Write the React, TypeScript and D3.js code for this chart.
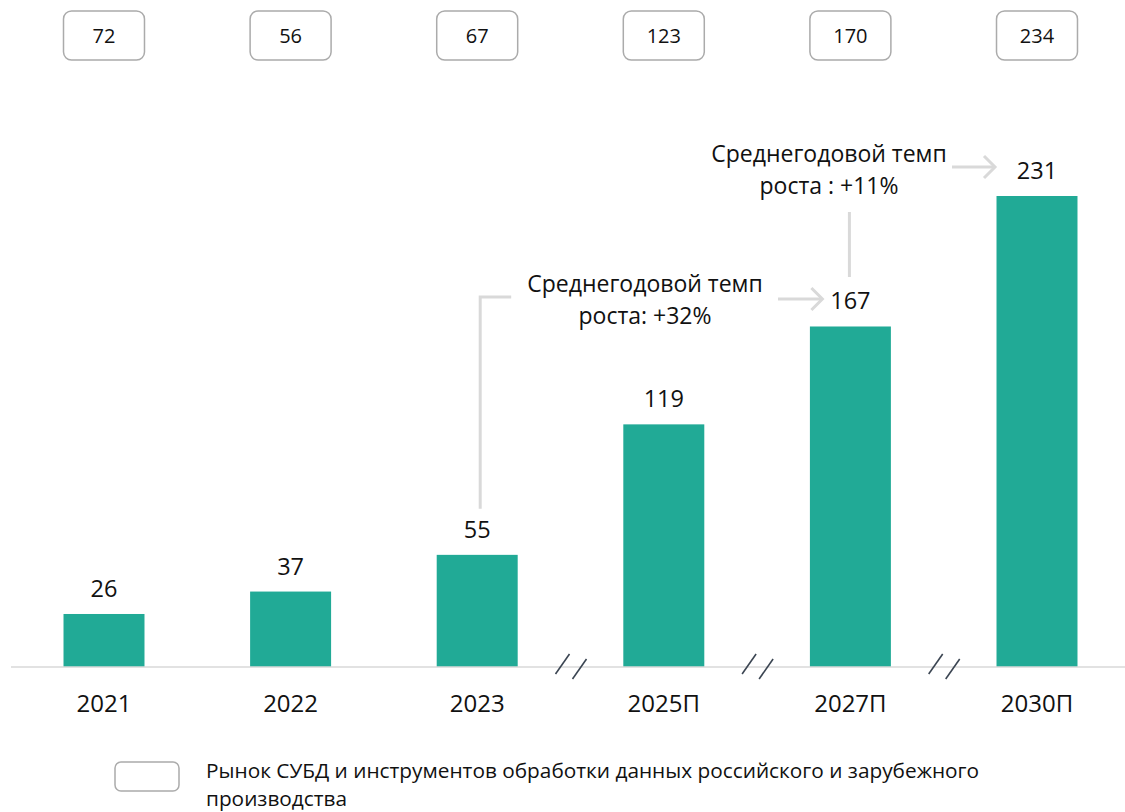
import React from "react";
import * as d3 from "d3";

const years = ["2021", "2022", "2023", "2025П", "2027П", "2030П"];
const marketValues = [26, 37, 55, 119, 167, 231];
const totalValues = [72, 56, 67, 123, 170, 234];
const breakAfter = ["2023", "2025П", "2027П"];
const cagrShort = ["Среднегодовой темп", "роста: +32%"];
const cagrLong = ["Среднегодовой темп", "роста : +11%"];
const legendLines = [
  "Рынок СУБД и инструментов обработки данных российского и зарубежного",
  "производства",
];

const W = 1125;
const H = 812;
const BAR = "#21AA96";
const LINE = "#D9D9D9";
const TEXT = "#111111";
const FONT = "'Open Sans', 'Noto Sans', sans-serif";

export default function App() {
  const x = d3
    .scaleBand<string>()
    .domain(years)
    .range([10.7, 1130.3])
    .paddingInner(0.566)
    .paddingOuter(0.283);
  const y = d3.scaleLinear().domain([0, 231]).range([667, 196]);
  const bw = x.bandwidth();
  const cx = (k: string) => (x(k) as number) + bw / 2;
  const step = x.step();

  const i23 = years.indexOf("2023");
  const i27 = years.indexOf("2027П");
  const i30 = years.indexOf("2030П");

  const arrow = (x1: number, x2: number, yy: number) => (
    <g stroke={LINE} strokeWidth={3} fill="none">
      <line x1={x1} y1={yy} x2={x2} y2={yy} />
      <polyline points={`${x2 - 11},${yy - 11} ${x2},${yy} ${x2 - 11},${yy + 11}`} />
    </g>
  );

  const a1x = cx(years[i23]) + 3;
  const a1top = 297;
  const a1textX = 645;
  const a2x = cx(years[i27]) - 1;
  const a2textX = 829;

  return (
    <svg
      width={W}
      height={H}
      style={{ position: "absolute", left: 0, top: 0, background: "#fff" }}
      fontFamily={FONT}
    >
      {years.map((k, i) => (
        <g key={"box" + k}>
          <rect
            x={x(k)}
            y={11}
            width={bw}
            height={49}
            rx={8}
            fill="#fff"
            stroke="#ABABAB"
            strokeWidth={1.5}
          />
          <text x={cx(k)} y={43} textAnchor="middle" fontSize={20} fill={TEXT}>
            {totalValues[i]}
          </text>
        </g>
      ))}

      {years.map((k, i) => (
        <g key={"bar" + k}>
          <rect
            x={x(k)}
            y={y(marketValues[i])}
            width={bw}
            height={y(0) - y(marketValues[i])}
            fill={BAR}
          />
          <text
            x={cx(k)}
            y={y(marketValues[i]) - 17}
            textAnchor="middle"
            fontSize={23.5}
            fill={TEXT}
          >
            {marketValues[i]}
          </text>
          <text x={cx(k)} y={712} textAnchor="middle" fontSize={24} fill={TEXT}>
            {k}
          </text>
        </g>
      ))}

      <line x1={11} y1={y(0)} x2={W} y2={y(0)} stroke={LINE} strokeWidth={1.5} />

      {breakAfter.map((k) => {
        const m = cx(k) + step / 2;
        return (
          <g key={"brk" + k} stroke="#3B4552" strokeWidth={1.6}>
            <line x1={m - 15} y1={674} x2={m - 1} y2={654} />
            <line x1={m + 2} y1={679} x2={m + 16} y2={659} />
          </g>
        );
      })}

      <polyline
        points={`${a1x},${y(marketValues[i23]) - 46} ${a1x},${a1top} ${a1x + 31},${a1top}`}
        stroke={LINE}
        strokeWidth={3}
        fill="none"
      />
      {cagrShort.map((t, j) => (
        <text
          key={"c1" + j}
          x={a1textX}
          y={292 + j * 31.5}
          textAnchor="middle"
          fontSize={23}
          fill={TEXT}
        >
          {t}
        </text>
      ))}
      {arrow(778, cx(years[i27]) - 28, 299)}

      <line x1={a2x} y1={212} x2={a2x} y2={277} stroke={LINE} strokeWidth={3} />
      {cagrLong.map((t, j) => (
        <text
          key={"c2" + j}
          x={a2textX}
          y={162 + j * 31.5}
          textAnchor="middle"
          fontSize={23}
          fill={TEXT}
        >
          {t}
        </text>
      ))}
      {arrow(952, cx(years[i30]) - 42, 167)}

      <rect x={115} y={762} width={64} height={29} rx={6} fill="#fff" stroke="#ABABAB" strokeWidth={1.5} />
      {legendLines.map((t, j) => (
        <text key={"lg" + j} x={206} y={777.5 + j * 28.7} fontSize={20.8} fill={TEXT}>
          {t}
        </text>
      ))}
    </svg>
  );
}
